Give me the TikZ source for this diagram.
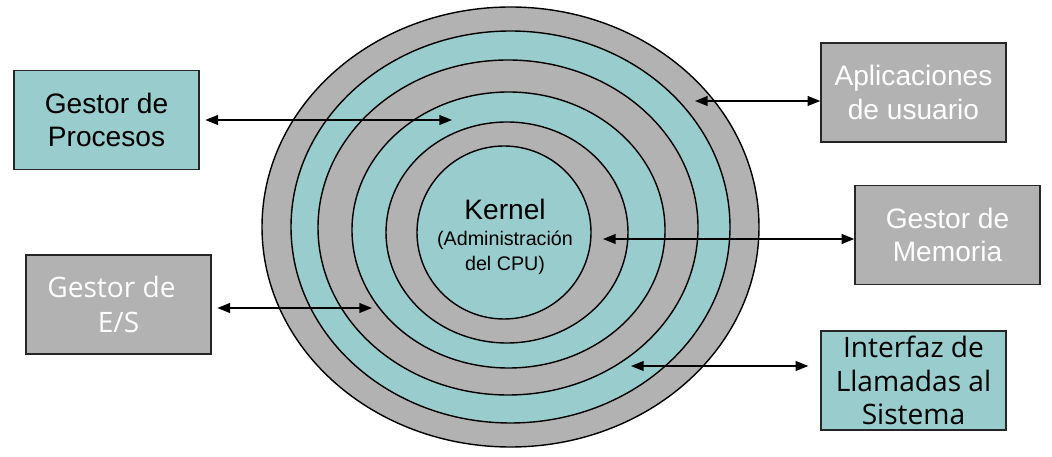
\documentclass[tikz,border=0pt]{standalone}
\usepackage{fontspec}
\setmainfont{Liberation Sans}
\newfontfamily\opensans{Open Sans}
\usepackage{xcolor}
\usetikzlibrary{arrows.meta,positioning}

\definecolor{capa}{HTML}{99CCCC}
\definecolor{gris}{HTML}{B2B2B2}

\begin{document}
\begin{tikzpicture}[
  x=0.025cm, y=-0.025cm,
  ring/.style={draw=black, line width=1pt},
  box/.style={draw=black!85, line width=1pt, align=center, minimum width=4.625cm, minimum height=2.475cm, font=\fontsize{20}{24}\selectfont},
  arr/.style={{Triangle[length=9pt,width=7pt]}-{Triangle[length=9pt,width=7pt]}, line width=1pt}
]
\useasboundingbox (0,0) rectangle (1052,457);

% capas
\filldraw[ring, fill=gris] (510.5,227) ellipse [x radius=248.5, y radius=220];
\filldraw[ring, fill=capa] (510.5,227) ellipse [x radius=219.5, y radius=196];
\filldraw[ring, fill=gris] (508,227.5) ellipse [x radius=190, y radius=167.5];
\filldraw[ring, fill=capa] (508.5,230) ellipse [x radius=156.5, y radius=138];
\filldraw[ring, fill=gris] (507,232.5) ellipse [x radius=121, y radius=110.5];
\filldraw[ring, fill=capa] (504,232.5) ellipse [x radius=87, y radius=86.5];

\node[align=center, font=\fontsize{14}{18}\selectfont] (kernel) at (505,237) {{\fontsize{20}{19}\selectfont Kernel}\\(Administración\\del CPU)};

% gestores
\node[box, fill=capa] (procesos) at (106.5,120) {Gestor de\\Procesos};
\node[box, fill=gris, text=white, font=\opensans\fontsize{20}{25}\selectfont] (es) at (118.5,304.5) {Gestor de\hspace*{10pt}\\E/S};
\node[box, fill=gris, text=white] (apps) at (913.5,92.5) {Aplicaciones\\de usuario};
\node[box, fill=gris, text=white] (memoria) at (947.5,235) {Gestor de\\Memoria};
\node[box, fill=capa, font=\opensans\fontsize{20}{24}\selectfont] (llamadas) at (913.5,380.5) {Interfaz de\\Llamadas al\\Sistema};

\coordinate (procin) at (452,120);
\coordinate (esin) at (372,308);
\coordinate (appsin) at (695,101);
\coordinate (memin) at (603,239);
\coordinate (llamin) at (631,366);

\draw[arr, shorten <=4pt] (procesos.east) -- (procin);
\draw[arr, shorten <=4pt] (es.east |- esin) -- (esin);
\draw[arr] (appsin) -- (apps.west |- appsin);
\draw[arr] (memin) -- (memoria.west |- memin);
\draw[arr, shorten >=8.5pt] (llamin) -- (llamadas.west |- llamin);
\end{tikzpicture}
\end{document}
